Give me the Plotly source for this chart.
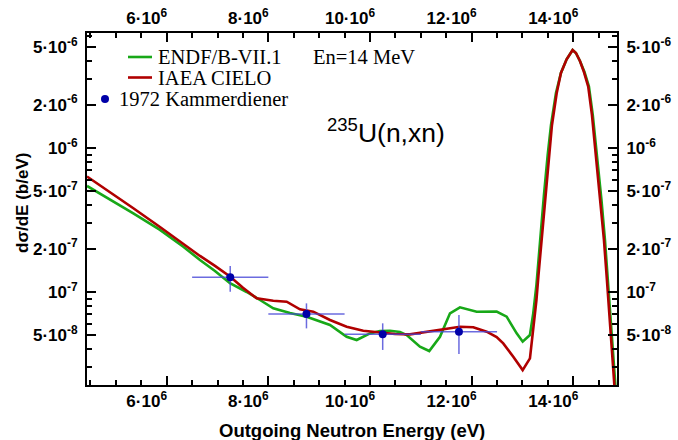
import plotly.graph_objects as go

# Outgoing-neutron spectrum of 235U(n,xn) at En = 14 MeV
# Energies in MeV, spectra in b/eV

endf_e = [4.432, 4.885, 5.343, 5.868, 6.327, 6.655, 6.950, 7.245, 7.574, 7.836,
          8.097, 8.426, 8.754, 9.213, 9.541, 9.738, 10.000, 10.196, 10.393, 10.590,
          10.722, 10.983, 11.166, 11.377, 11.574, 11.770, 12.099, 12.492, 12.689, 12.886,
          13.004, 13.147, 13.212, 13.275, 13.334, 13.423, 13.496, 13.561, 13.659, 13.757,
          13.869, 13.987, 14.052, 14.131, 14.220, 14.308, 14.383, 14.466, 14.554, 14.623,
          14.682, 14.751, 14.800, 14.829, 14.849]
endf_v = [5.45e-7, 4.39e-7, 3.52e-7, 2.70e-7, 2.06e-7, 1.67e-7, 1.40e-7, 1.15e-7, 1.00e-7, 8.80e-8,
          7.70e-8, 7.15e-8, 6.74e-8, 5.90e-8, 4.89e-8, 4.64e-8, 5.16e-8, 5.36e-8, 5.38e-8, 5.28e-8,
          5.03e-8, 4.17e-8, 3.89e-8, 4.89e-8, 7.11e-8, 7.83e-8, 7.30e-8, 7.32e-8, 6.74e-8, 5.16e-8,
          4.52e-8, 5.03e-8, 7.11e-8, 1.12e-7, 2.05e-7, 4.72e-7, 8.94e-7, 1.44e-6, 2.41e-6, 3.32e-6,
          4.13e-6, 4.79e-6, 4.57e-6, 4.02e-6, 3.37e-6, 2.67e-6, 1.70e-6, 8.94e-7, 4.36e-7, 2.30e-7,
          1.21e-7, 5.45e-8, 3.20e-8, 2.22e-8, 1.78e-8]

cielo_e = [4.432, 4.885, 5.337, 5.868, 6.360, 6.655, 6.950, 7.245, 7.501, 7.771,
           8.097, 8.361, 8.622, 8.884, 9.213, 9.541, 9.868, 10.196, 10.491, 10.787,
           11.082, 11.312, 11.770, 12.032, 12.296, 12.492, 12.622, 12.819, 13.004, 13.147,
           13.212, 13.275, 13.315, 13.364, 13.452, 13.521, 13.580, 13.673, 13.757, 13.869,
           13.987, 14.052, 14.131, 14.210, 14.294, 14.367, 14.446, 14.534, 14.603, 14.662,
           14.731, 14.786, 14.816, 14.829]
cielo_v = [6.34e-7, 4.95e-7, 3.83e-7, 2.83e-7, 2.12e-7, 1.78e-7, 1.52e-7, 1.28e-7, 1.07e-7, 9.04e-8,
           8.70e-8, 8.56e-8, 7.58e-8, 7.30e-8, 6.39e-8, 5.74e-8, 5.38e-8, 5.22e-8, 5.11e-8, 5.08e-8,
           5.28e-8, 5.45e-8, 5.74e-8, 5.69e-8, 5.30e-8, 4.87e-8, 4.40e-8, 3.55e-8, 2.87e-8, 3.46e-8,
           5.45e-8, 8.80e-8, 1.31e-7, 2.05e-7, 4.72e-7, 8.94e-7, 1.44e-6, 2.40e-6, 3.32e-6, 4.13e-6,
           4.79e-6, 4.57e-6, 4.02e-6, 3.37e-6, 2.67e-6, 1.70e-6, 8.94e-7, 4.36e-7, 2.30e-7, 1.21e-7,
           5.45e-8, 3.20e-8, 2.22e-8, 1.78e-8]

# 1972 Kammerdiener measurement: bin centre, half width, value, upper/lower errors
exp_e = [7.25, 8.75, 10.25, 11.75]
exp_halfwidth = [0.75, 0.75, 0.75, 0.75]
exp_v = [1.265e-7, 7.04e-8, 5.08e-8, 5.30e-8]
exp_err_up = [2.5e-8, 1.30e-8, 0.98e-8, 1.62e-8]
exp_err_dn = [2.6e-8, 1.45e-8, 1.12e-8, 1.59e-8]

x_ticks = [6e6, 8e6, 10e6, 12e6, 14e6]
x_ticktext = ["6·10<sup>6</sup>", "8·10<sup>6</sup>", "10·10<sup>6</sup>",
              "12·10<sup>6</sup>", "14·10<sup>6</sup>"]
y_ticks = [5e-8, 1e-7, 2e-7, 5e-7, 1e-6, 2e-6, 5e-6]
y_ticktext = ["5·10<sup>-8</sup>", "10<sup>-7</sup>", "2·10<sup>-7</sup>", "5·10<sup>-7</sup>",
              "10<sup>-6</sup>", "2·10<sup>-6</sup>", "5·10<sup>-6</sup>"]
y_minor = [3e-8, 4e-8, 6e-8, 7e-8, 8e-8, 9e-8, 3e-7, 4e-7, 6e-7, 7e-7, 8e-7, 9e-7,
           3e-6, 4e-6, 6e-6]

GREEN = "#18a818"
RED = "#b00000"
BLUE = "#0000a8"

MEV = 1e6
fig = go.Figure()
fig.add_trace(go.Scatter(x=[e * MEV for e in endf_e], y=endf_v, mode="lines",
                         line=dict(color=GREEN, width=2.6), name="ENDF/B-VII.1"))
fig.add_trace(go.Scatter(x=[e * MEV for e in cielo_e], y=cielo_v, mode="lines",
                         line=dict(color=RED, width=2.6), name="IAEA CIELO"))
fig.add_trace(go.Scatter(
    x=[e * MEV for e in exp_e], y=exp_v, mode="markers",
    marker=dict(color=BLUE, size=8),
    error_x=dict(type="data", array=[h * MEV for h in exp_halfwidth],
                 color="rgba(70,70,215,0.8)", thickness=1.5, width=0),
    error_y=dict(type="data", symmetric=False, array=exp_err_up, arrayminus=exp_err_dn,
                 color="rgba(70,70,215,0.8)", thickness=1.5, width=0),
    name="1972 Kammerdiener"))
# register the mirrored top / right axes
fig.add_trace(go.Scatter(x=[None], y=[None], xaxis="x2", yaxis="y2", showlegend=False,
                         hoverinfo="skip"))

W, H = 678, 440
L, R, T, B = 87, 61, 33, 55
x_range = [4.432e6, 14.86e6]
y_range = [-7.6458, -5.2014]

tickfont = dict(family="Liberation Sans", size=17, color="black", weight="bold")
common_x = dict(range=x_range, tickmode="array", tickvals=x_ticks, ticktext=x_ticktext,
                ticks="inside", ticklen=9, tickwidth=1.5, tickcolor="black",
                showline=True, linewidth=2, linecolor="black", showgrid=False,
                zeroline=False, tickfont=tickfont, ticklabelshift=-20,
                minor=dict(tick0=0, dtick=0.5e6, ticks="inside", ticklen=5,
                           tickwidth=1.5, tickcolor="black", showgrid=False))
common_y = dict(type="log", range=y_range, tickmode="array", tickvals=y_ticks,
                ticktext=y_ticktext, ticks="inside", ticklen=9, tickwidth=1.5,
                tickcolor="black", showline=True, linewidth=2, linecolor="black",
                showgrid=False, zeroline=False, tickfont=tickfont,
                minor=dict(tickmode="array", tickvals=y_minor, ticks="inside", ticklen=5,
                           tickwidth=1.5, tickcolor="black", showgrid=False))

fig.update_layout(
    width=W, height=H, margin=dict(l=L, r=R, t=T, b=B, autoexpand=False),
    paper_bgcolor="white", plot_bgcolor="white", showlegend=False,
    xaxis=dict(**common_x, side="bottom", anchor="y"),
    xaxis2=dict(**common_x, side="top", overlaying="x", anchor="y"),
    yaxis=dict(**common_y, side="left", anchor="x", ticklabelstandoff=4),
    yaxis2=dict(**common_y, side="right", overlaying="y", anchor="x", ticklabelstandoff=4),
)

pw, ph = W - L - R, H - T - B


def px(x):
    return (x - L) / pw


def py(y):
    return (H - B - y) / ph


serif = dict(family="Liberation Serif", size=20.5, color="black")
sans_bold = dict(family="Liberation Sans", size=18.5, color="black", weight="bold")

# hand-drawn legend
fig.add_shape(type="line", xref="paper", yref="paper", x0=px(128), x1=px(152),
              y0=py(57), y1=py(57), line=dict(color=GREEN, width=2.6))
fig.add_shape(type="line", xref="paper", yref="paper", x0=px(128), x1=px(152),
              y0=py(77.5), y1=py(77.5), line=dict(color=RED, width=2.6))
fig.add_shape(type="circle", xref="paper", yref="paper", x0=px(101), x1=px(109),
              y0=py(95), y1=py(103), fillcolor=BLUE, line=dict(color=BLUE, width=0))

annotations = [
    dict(text="ENDF/B-VII.1", x=px(156), y=py(57), xanchor="left", font=serif),
    dict(text="IAEA CIELO", x=px(156), y=py(77.5), xanchor="left", font=serif),
    dict(text="1972 Kammerdiener", x=px(117), y=py(99), xanchor="left", font=serif),
    dict(text="En=14 MeV", x=px(311), y=py(57), xanchor="left", font=serif),
    dict(text="<sup>235</sup>U(n,xn)", x=px(386), y=py(131), xanchor="center",
         font=dict(family="Liberation Sans", size=26.5, color="black")),
    dict(text="Outgoing Neutron Energy (eV)", x=px(352), y=py(430), xanchor="center",
         font=sans_bold),
    dict(text="dσ/dE (b/eV)", x=px(22), y=py(203), xanchor="center", textangle=-90,
         font=dict(family="Liberation Sans", size=17, color="black", weight="bold")),
]
for a in annotations:
    a.update(xref="paper", yref="paper", yanchor="middle", showarrow=False)
fig.update_layout(annotations=annotations)

fig.write_html("out.html")
